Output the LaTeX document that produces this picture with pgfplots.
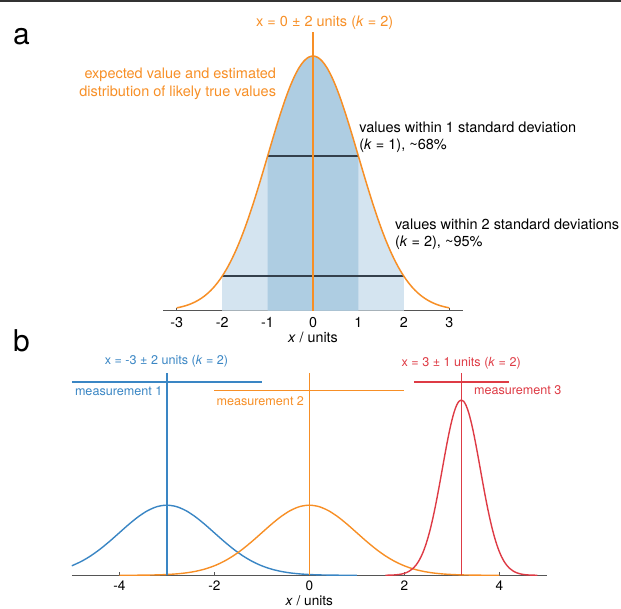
\documentclass[border=0pt]{standalone}
\usepackage{pgfplots}
\pgfplotsset{compat=1.18}
\usepackage{pgfplotstable}
\usepackage{fontspec}
\setmainfont{TeX Gyre Heros}
\definecolor{orangeC}{RGB}{247,143,38}
\definecolor{blueC}{RGB}{58,134,196}
\definecolor{redC}{RGB}{222,59,69}
\definecolor{lightfill}{RGB}{212,228,240}
\definecolor{darkfill}{RGB}{174,205,226}
\definecolor{darkline}{RGB}{52,64,76}
\definecolor{axisgray}{RGB}{85,85,85}
\newcommand\fa{\fontsize{14.5}{17}\selectfont}
\newcommand\fb{\fontsize{12.6}{15}\selectfont}
\newcommand\ft{\fontsize{14.3}{16}\selectfont}
\newcommand\ftb{\fontsize{13.6}{15}\selectfont}

\pgfplotstableread{
x y
-3.0 0.00443
-2.9 0.00595
-2.8 0.00792
-2.7 0.01042
-2.6 0.01358
-2.5 0.01753
-2.4 0.02239
-2.3 0.02833
-2.2 0.03547
-2.1 0.04398
-2.0 0.05399
-1.9 0.06562
-1.8 0.07895
-1.7 0.09405
-1.6 0.11092
-1.5 0.12952
-1.4 0.14973
-1.3 0.17137
-1.2 0.19419
-1.1 0.21785
-1.0 0.24197
-0.9 0.26609
-0.8 0.28969
-0.7 0.31225
-0.6 0.33322
-0.5 0.35207
-0.4 0.36827
-0.3 0.38139
-0.2 0.39104
-0.1 0.39695
0.0 0.39894
0.1 0.39695
0.2 0.39104
0.3 0.38139
0.4 0.36827
0.5 0.35207
0.6 0.33322
0.7 0.31225
0.8 0.28969
0.9 0.26609
1.0 0.24197
1.1 0.21785
1.2 0.19419
1.3 0.17137
1.4 0.14973
1.5 0.12952
1.6 0.11092
1.7 0.09405
1.8 0.07895
1.9 0.06562
2.0 0.05399
2.1 0.04398
2.2 0.03547
2.3 0.02833
2.4 0.02239
2.5 0.01753
2.6 0.01358
2.7 0.01042
2.8 0.00792
2.9 0.00595
3.0 0.00443
}\gaussA

\pgfplotstableread{
x y
-5.0 0.05399
-4.8 0.07895
-4.6 0.11092
-4.4 0.14973
-4.2 0.19419
-4.0 0.24197
-3.8 0.28969
-3.6 0.33322
-3.4 0.36827
-3.2 0.39104
-3.0 0.39894
-2.8 0.39104
-2.6 0.36827
-2.4 0.33322
-2.2 0.28969
-2.0 0.24197
-1.8 0.19419
-1.6 0.14973
-1.4 0.11092
-1.2 0.07895
-1.0 0.05399
-0.8 0.03547
-0.6 0.02239
-0.4 0.01358
-0.2 0.00792
0.0 0.00443
0.2 0.00238
0.4 0.00123
0.6 0.00061
0.8 0.00029
1.0 0.00013
}\measA

\pgfplotstableread{
x y
-4.0 0.00013
-3.8 0.00029
-3.6 0.00061
-3.4 0.00123
-3.2 0.00238
-3.0 0.00443
-2.8 0.00792
-2.6 0.01358
-2.4 0.02239
-2.2 0.03547
-2.0 0.05399
-1.8 0.07895
-1.6 0.11092
-1.4 0.14973
-1.2 0.19419
-1.0 0.24197
-0.8 0.28969
-0.6 0.33322
-0.4 0.36827
-0.2 0.39104
0.0 0.39894
0.2 0.39104
0.4 0.36827
0.6 0.33322
0.8 0.28969
1.0 0.24197
1.2 0.19419
1.4 0.14973
1.6 0.11092
1.8 0.07895
2.0 0.05399
2.2 0.03547
2.4 0.02239
2.6 0.01358
2.8 0.00792
3.0 0.00443
3.2 0.00238
3.4 0.00123
3.6 0.00061
3.8 0.00029
4.0 0.00013
}\measB

\pgfplotstableread{
x y
1.60 0.00033
1.70 0.00088
1.80 0.00218
1.90 0.00507
2.00 0.01108
2.10 0.02274
2.20 0.04382
2.25 0.05943
2.30 0.07936
2.35 0.10432
2.40 0.13498
2.45 0.17196
2.50 0.21570
2.55 0.26633
2.60 0.32379
2.65 0.38752
2.70 0.45662
2.75 0.52970
2.80 0.60493
2.85 0.68014
2.90 0.75285
2.95 0.82041
3.00 0.88017
3.05 0.92964
3.10 0.96667
3.15 0.98960
3.20 0.99736
3.25 0.98960
3.30 0.96667
3.35 0.92964
3.40 0.88017
3.45 0.82041
3.50 0.75285
3.55 0.68014
3.60 0.60493
3.65 0.52970
3.70 0.45662
3.75 0.38752
3.80 0.32379
3.85 0.26633
3.90 0.21570
3.95 0.17196
4.00 0.13498
4.05 0.10432
4.10 0.07936
4.15 0.05943
4.20 0.04382
4.30 0.02274
4.40 0.01108
4.50 0.00507
4.60 0.00218
4.70 0.00088
4.80 0.00033
}\measC

\begin{document}
\begin{tikzpicture}[every node/.style={inner sep=0pt, outer sep=0pt}]
\useasboundingbox (0pt,0pt) rectangle (621pt,608pt);
\draw[line width=1.6pt, black!80] (0pt,607.2pt) -- (621pt,607.2pt);

% panel labels
\node[anchor=base west, font=\fontsize{30}{32}\selectfont] at (13pt,563pt) {a};
\node[anchor=base west, font=\fontsize{30}{32}\selectfont] at (13pt,256pt) {b};

% ---------- panel a ----------
\begin{axis}[
  at={(163.1pt,297.3pt)}, anchor=south west,
  width=299.8pt, height=279pt, scale only axis,
  xmin=-3.3, xmax=3.3, ymin=0, ymax=0.437,
  axis x line=bottom, axis y line=none,
  x axis line style={-, draw=axisgray, line width=1.3pt},
  clip=false,
  xtick={-3,-2,-1,0,1,2,3},
  xticklabels={-3,-2,-1,0,1,2,3},
  xtick align=inside, major tick length=3pt,
  tick style={draw=axisgray, line width=0.8pt},
  xticklabel style={anchor=base, yshift=-16.8pt, font=\ft},
  xlabel={\textit{x} / units},
  xlabel style={at={(axis description cs:0.5,0)}, anchor=base, yshift=-32.3pt, font=\ft},
]
\addplot[draw=none, fill=lightfill, restrict x to domain=-2.01:2.01] table {\gaussA} \closedcycle;
\addplot[draw=none, fill=darkfill, restrict x to domain=-1.01:1.01] table {\gaussA} \closedcycle;
\addplot[darkline, line width=1.6pt] coordinates {(-1,0.24197) (1,0.24197)};
\addplot[darkline, line width=1.6pt] coordinates {(-2,0.05399) (2,0.05399)};
\addplot[orangeC, line width=1.5pt, smooth] table {\gaussA};
\addplot[orangeC, line width=1.6pt] coordinates {(0,0) (0,0.437)};
\end{axis}

\node[anchor=base, text=orangeC, font=\fa] at (324.7pt,581.5pt) {x = 0 ± 2 units (\textit{k} = 2)};
\node[anchor=base east, text=orangeC, font=\fa] at (276pt,529.3pt) {expected value and estimated};
\node[anchor=base east, text=orangeC, font=\fa] at (276pt,511.3pt) {distribution of likely true values};
\node[anchor=base west, font=\fa] at (359.3pt,475.7pt) {values within 1 standard deviation};
\node[anchor=base west, font=\fa] at (359.3pt,458.5pt) {(\textit{k} = 1), \textasciitilde 68\%};
\node[anchor=base west, font=\fa] at (395pt,378pt) {values within 2 standard deviations};
\node[anchor=base west, font=\fa] at (395pt,361pt) {(\textit{k} = 2), \textasciitilde 95\%};

% ---------- panel b ----------
\begin{axis}[
  at={(71.8pt,32.7pt)}, anchor=south west,
  width=475pt, height=202.3pt, scale only axis,
  xmin=-5, xmax=5, ymin=0, ymax=1.151,
  axis x line=bottom, axis y line=none,
  x axis line style={-, draw=axisgray, line width=1.3pt},
  clip=false,
  xtick={-4,-2,0,2,4},
  xticklabels={-4,-2,0,2,4},
  xtick align=inside, major tick length=3pt,
  tick style={draw=axisgray, line width=0.8pt},
  xticklabel style={anchor=base, yshift=-15.4pt, font=\ftb},
  xlabel={\textit{x} / units},
  xlabel style={at={(axis description cs:0.5,0)}, anchor=base, yshift=-30.2pt, font=\ftb},
]
\addplot[blueC, line width=1.4pt, smooth] table {\measA};
\addplot[orangeC, line width=1.4pt, smooth] table {\measB};
\addplot[redC, line width=1.4pt, smooth] table {\measC};
\addplot[blueC, line width=1.6pt] coordinates {(-3,0) (-3,1.151)};
\addplot[blueC, line width=1.3pt] coordinates {(-5,1.1) (-1,1.1)};
\addplot[orangeC, line width=1.6pt] coordinates {(0,0) (0,1.151)};
\addplot[orangeC, line width=1.1pt] coordinates {(-2,1.05) (2,1.05)};
\addplot[redC, line width=1.6pt] coordinates {(3.2,0) (3.2,1.151)};
\addplot[redC, line width=1.3pt] coordinates {(2.2,1.1) (4.2,1.1)};
\end{axis}

\node[anchor=base, text=blueC, font=\fb] at (166.5pt,243.7pt) {x = -3 ± 2 units (\textit{k} = 2)};
\node[anchor=base west, text=blueC, font=\fb] at (75pt,212pt) {measurement 1};
\node[anchor=base east, text=orangeC, font=\fb] at (304pt,202pt) {measurement 2};
\node[anchor=base, text=redC, font=\fb] at (461.2pt,241.3pt) {x = 3 ± 1 units (\textit{k} = 2)};
\node[anchor=base west, text=redC, font=\fb] at (474pt,213.7pt) {measurement 3};
\end{tikzpicture}
\end{document}
